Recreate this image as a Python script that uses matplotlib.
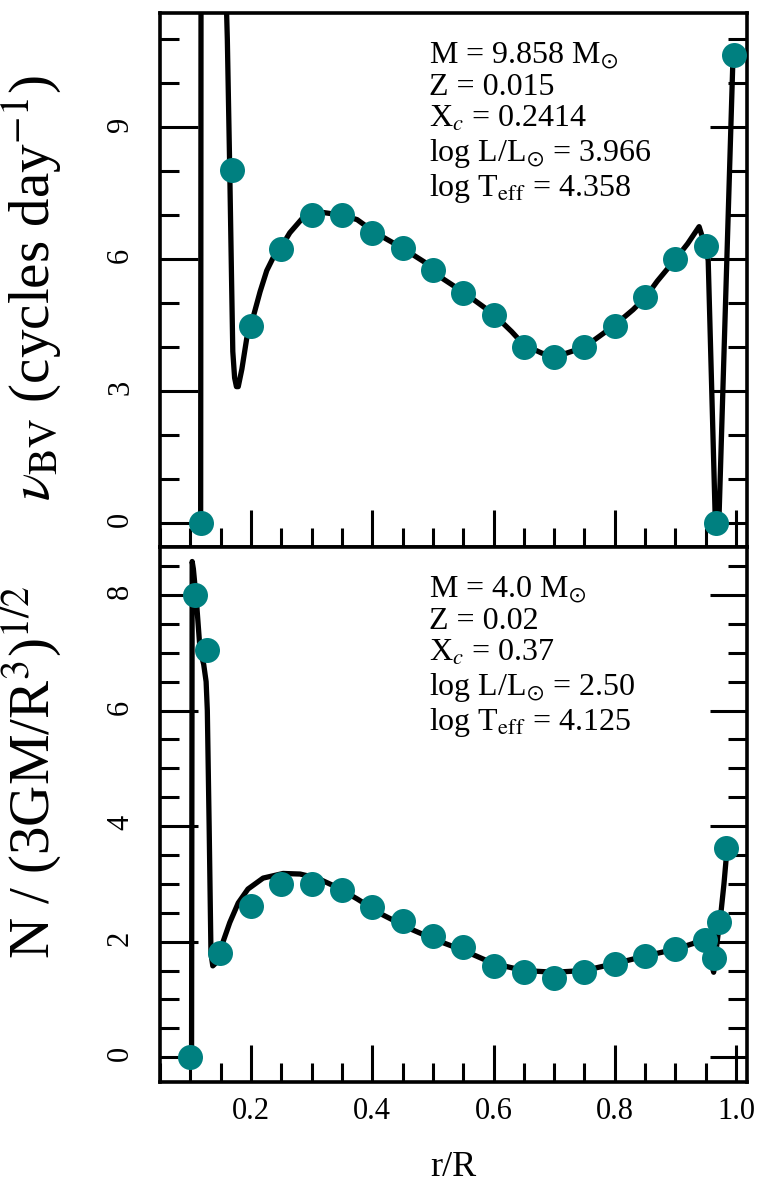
import matplotlib
matplotlib.use("Agg")
import matplotlib.pyplot as plt
from matplotlib.ticker import MultipleLocator, NullFormatter

plt.rcParams["font.family"] = ["Liberation Serif", "DejaVu Serif"]
plt.rcParams["mathtext.fontset"] = "stix"

TEAL = "#008080"

# --- top panel: Brunt-Vaisala frequency (cycles/day) ---
nu_r = [0.117, 0.118, 0.140, 0.158, 0.161, 0.165, 0.168, 0.170, 0.173, 0.176,
        0.179, 0.182, 0.185, 0.193, 0.200, 0.215, 0.226, 0.240, 0.250, 0.264,
        0.286, 0.300, 0.320, 0.350, 0.375, 0.400, 0.418, 0.450, 0.490, 0.500,
        0.517, 0.550, 0.600, 0.630, 0.650, 0.680, 0.700, 0.720, 0.750, 0.780,
        0.800, 0.830, 0.850, 0.870, 0.900, 0.920, 0.939, 0.949, 0.954, 0.966,
        0.970, 0.972, 0.995]
nu_v = [0.0, 20.0, 16.0, 12.5, 11.0, 8.0, 5.5, 3.9, 3.3, 3.1,
        3.1, 3.3, 3.5, 4.2, 4.5, 5.26, 5.74, 6.13, 6.28, 6.6,
        6.95, 7.02, 7.06, 7.0, 6.9, 6.65, 6.5, 6.25, 5.9, 5.78,
        5.55, 5.25, 4.75, 4.35, 4.05, 3.86, 3.82, 3.86, 4.0, 4.3,
        4.5, 4.85, 5.12, 5.5, 6.0, 6.35, 6.74, 6.3, 5.97, -0.1,
        -0.1, 0.2, 10.65]
nu_pts_r = [0.117, 0.169, 0.20, 0.25, 0.30, 0.35, 0.40, 0.45, 0.50, 0.55,
            0.60, 0.65, 0.70, 0.75, 0.80, 0.85, 0.90, 0.95, 0.967, 0.997]
nu_pts_v = [0.0, 8.02, 4.49, 6.24, 7.0, 7.0, 6.6, 6.26, 5.76, 5.24,
            4.74, 4.0, 3.78, 4.0, 4.49, 5.13, 6.01, 6.29, 0.0, 10.64]

# --- bottom panel: N / (3GM/R^3)^(1/2) ---
N_r = [0.102, 0.103, 0.105, 0.110, 0.116, 0.122, 0.126, 0.128, 0.131, 0.134,
       0.137, 0.141, 0.149, 0.165, 0.179, 0.195, 0.220, 0.253, 0.281, 0.309,
       0.342, 0.375, 0.418, 0.463, 0.507, 0.550, 0.600, 0.650, 0.700, 0.750,
       0.800, 0.850, 0.900, 0.930, 0.942, 0.950, 0.956, 0.961, 0.963, 0.966,
       0.970, 0.975, 0.980, 0.985]
N_v = [0.0, 8.58, 8.45, 7.9, 7.05, 6.8, 6.5, 6.0, 4.0, 1.8,
       1.58, 1.62, 1.85, 2.33, 2.67, 2.91, 3.10, 3.18, 3.17, 3.10,
       2.94, 2.74, 2.46, 2.22, 2.02, 1.85, 1.62, 1.50, 1.47, 1.50,
       1.62, 1.75, 1.87, 1.97, 2.08, 2.0, 1.85, 1.55, 1.47, 1.75,
       2.1, 2.5, 3.0, 3.6]
N_pts_r = [0.100, 0.107, 0.128, 0.149, 0.20, 0.25, 0.30, 0.35, 0.40, 0.45,
           0.50, 0.55, 0.60, 0.65, 0.70, 0.75, 0.80, 0.85, 0.90, 0.949,
           0.963, 0.972, 0.984]
N_pts_v = [0.0, 8.0, 7.05, 1.80, 2.61, 3.0, 3.0, 2.89, 2.6, 2.35,
           2.1, 1.9, 1.58, 1.47, 1.37, 1.47, 1.62, 1.75, 1.88, 2.03,
           1.72, 2.34, 3.62]

top_text = [r"M = 9.858 M$_{\odot}$", "Z = 0.015", r"X$_c$ = 0.2414",
            r"log L/L$_{\odot}$ = 3.966", r"log T$_{\rm eff}$ = 4.358"]
bot_text = [r"M = 4.0 M$_{\odot}$", "Z = 0.02", r"X$_c$ = 0.37",
            r"log L/L$_{\odot}$ = 2.50", r"log T$_{\rm eff}$ = 4.125"]

fig = plt.figure(figsize=(7.57, 11.96), dpi=100)
ax1 = fig.add_axes([0.2114, 0.5426, 0.7754, 0.4465])
ax2 = fig.add_axes([0.2114, 0.0953, 0.7754, 0.4473])


def style(ax, ymajor, yminor):
    ax.set_xlim(0.05, 1.018)
    ax.xaxis.set_major_locator(MultipleLocator(0.2))
    ax.xaxis.set_minor_locator(MultipleLocator(0.05))
    ax.yaxis.set_major_locator(MultipleLocator(ymajor))
    ax.yaxis.set_minor_locator(MultipleLocator(yminor))
    for s in ax.spines.values():
        s.set_linewidth(2.6)
    ax.tick_params(which="both", direction="in", left=True, right=True,
                   bottom=True, top=False, width=2.2, labelsize=22)
    ax.tick_params(which="major", length=27)
    ax.tick_params(which="minor", length=14)
    ax.tick_params(axis="y", labelrotation=90, pad=18)
    ax.tick_params(axis="x", pad=11)


ax1.plot(nu_r, nu_v, color="black", lw=3.8, zorder=2)
ax1.plot(nu_pts_r, nu_pts_v, "o", color=TEAL, ms=18, mec="none", zorder=3)
ax1.set_ylim(-0.55, 11.6)
style(ax1, 3, 1)
ax1.xaxis.set_major_formatter(NullFormatter())
ax1.set_ylabel(r"$\nu_{\rm BV}$ (cycles day$^{-1}$)", fontsize=41)
ax1.yaxis.set_label_coords(-0.163, 0.485)
ax1.text(0.458, 0.948, "\n".join(top_text), transform=ax1.transAxes,
         fontsize=23, va="top", ha="left", linespacing=1.11)

ax2.plot(N_r, N_v, color="black", lw=3.8, zorder=2)
ax2.plot(N_pts_r, N_pts_v, "o", color=TEAL, ms=18, mec="none", zorder=3)
ax2.set_ylim(-0.43, 8.83)
style(ax2, 2, 0.5)
ax2.set_ylabel(r"N / (3GM/R$^3$)$^{1/2}$", fontsize=41)
ax2.yaxis.set_label_coords(-0.163, 0.58)
ax2.set_xlabel("r/R", fontsize=26, labelpad=18)
ax2.text(0.458, 0.948, "\n".join(bot_text), transform=ax2.transAxes,
         fontsize=23, va="top", ha="left", linespacing=1.11)

fig.savefig("out.png", dpi=100)
